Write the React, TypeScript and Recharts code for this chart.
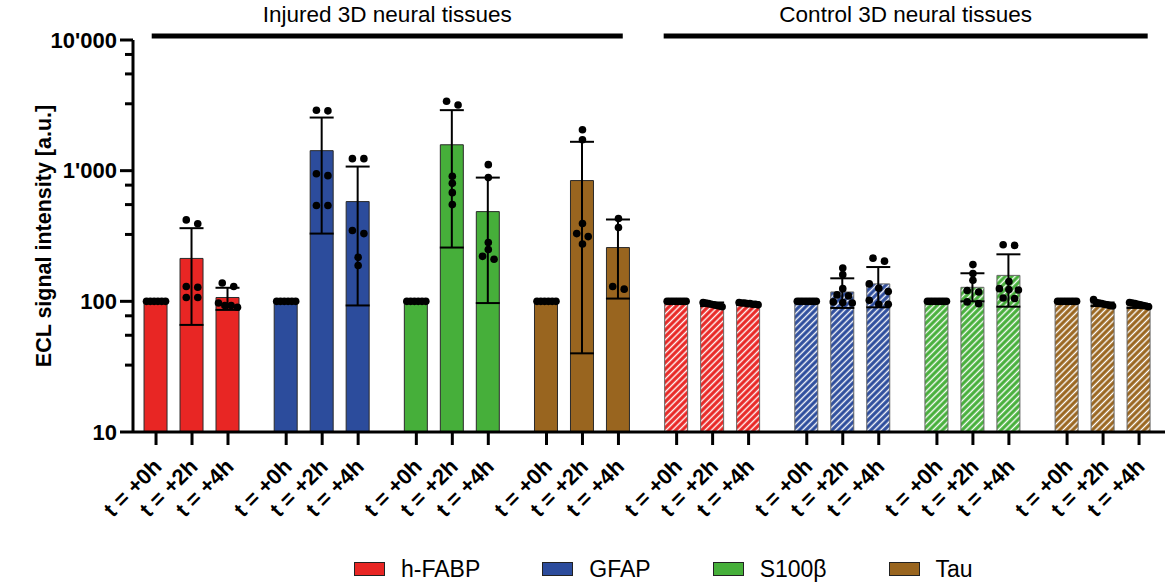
import React from "react";
import {
  ComposedChart,
  Bar,
  Cell,
  ErrorBar,
  Scatter,
  XAxis,
  YAxis,
  ReferenceLine,
} from "recharts";

const FONT = '"Liberation Sans", Arial, Helvetica, sans-serif';

const markers = ["h-FABP", "GFAP", "S100β", "Tau"];
const markerColors = ["#E82624", "#2C4C9C", "#46AF3A", "#99651F"];
const timeLabels = ["t = +0h", "t = +2h", "t = +4h"];
const conditionTitles = ["Injured 3D neural tissues", "Control 3D neural tissues"];

const majorTicks = [10, 100, 1000, 10000];
const minorTicks = [32.5, 55, 77.5, 325, 550, 775, 3250, 5500, 7750];

// order: h-FABP (0h, 2h, 4h), GFAP, S100β, Tau
const injuredMean = [100, 213, 107, 100, 1423, 580, 100, 1578, 486, 100, 840, 258];
const injuredLow = [100, 66, 86, 100, 330, 93, 100, 258, 97, 100, 40, 105];
const injuredHigh = [100, 363, 127, 100, 2550, 1075, 100, 2905, 885, 100, 1663, 423];

const controlMean = [100, 95, 96, 100, 118, 136, 100, 128, 158, 100, 95, 92];
const controlLow = [100, 92, 94, 100, 89, 90, 100, 100, 91, 100, 92, 89];
const controlHigh = [100, 98, 98, 100, 150, 183, 100, 164, 229, 100, 98, 95];

const injuredDots = [
  [100, 100, 100, 100, 100, 100],
  [420, 392, 130, 128, 107, 107],
  [138, 130, 97, 93, 93, 90],
  [100, 100, 100, 100, 100, 100],
  [2900, 2870, 948, 916, 541, 541],
  [1236, 1236, 348, 330, 217, 188],
  [100, 100, 100, 100, 100, 100],
  [3400, 3180, 905, 800, 679, 550],
  [1112, 885, 282, 249, 221, 210],
  [100, 100, 100, 100, 100, 100],
  [2055, 1726, 394, 330, 313, 275],
  [430, 367, 130, 124],
];

const controlDots = [
  [100, 100, 100, 100, 100, 100, 100, 100],
  [98, 97, 96, 95, 94, 93, 92, 91],
  [98, 97, 97, 96, 96, 95, 95, 94],
  [100, 100, 100, 100, 100, 100, 100, 100],
  [180, 160, 125, 112, 110, 99, 98, 97],
  [214, 203, 136, 126, 119, 102, 95, 95],
  [100, 100, 100, 100, 100, 100, 100, 100],
  [191, 163, 145, 121, 118, 99, 96],
  [271, 268, 142, 125, 123, 122, 106, 105],
  [100, 100, 100, 100, 100, 100, 100, 100],
  [103, 98, 97, 96, 95, 94, 93, 92],
  [98, 97, 96, 95, 94, 93, 92, 91],
];

const GROUP_PITCH = 3.617;
const X_DOMAIN: [number, number] = [-0.64, 28.04];
const PX_PER_UNIT = 36;
const BRACKET_Y = 10730;

const pos = (group: number, time: number) => group * GROUP_PITCH + time;

// Prism-like horizontal spread of points with nearly equal values
function spreadDots(values: number[]) {
  const sorted = [...values].sort((a, b) => b - a);
  const clusters: number[][] = [];
  let cur: number[] = [];
  sorted.forEach((v, i) => {
    if (i > 0 && Math.log10(sorted[i - 1]) - Math.log10(v) > 0.044) {
      clusters.push(cur);
      cur = [];
    }
    cur.push(v);
  });
  clusters.push(cur);
  return clusters.flatMap((cl) => {
    const n = cl.length;
    const step = n > 1 ? Math.min(11.5, 19 / (n - 1)) : 0;
    return cl.map((v, k) => ({ v, dx: ((k - (n - 1) / 2) * step) / PX_PER_UNIT }));
  });
}

const conditions = [
  { mean: injuredMean, low: injuredLow, high: injuredHigh, dots: injuredDots, hatched: false },
  { mean: controlMean, low: controlLow, high: controlHigh, dots: controlDots, hatched: true },
];

const barRows: { x: number; mean: number; err: [number, number]; fill: string; hatched: boolean }[] = [];
const dotRows: { x: number; y: number }[] = [];

conditions.forEach((c, ci) => {
  markers.forEach((_, m) => {
    timeLabels.forEach((__, t) => {
      const i = m * 3 + t;
      const x = pos(ci * 4 + m, t);
      barRows.push({
        x,
        mean: c.mean[i],
        err: [c.mean[i] - c.low[i], c.high[i] - c.mean[i]],
        fill: c.hatched ? `url(#hatch-${m})` : markerColors[m],
        hatched: c.hatched,
      });
      spreadDots(c.dots[i]).forEach((d) => dotRows.push({ x: x + d.dx, y: d.v }));
    });
  });
});

const barTicks = barRows.map((r) => r.x);

const fmt = (v: number) => String(v).replace(/\B(?=(\d{3})+(?!\d))/g, "'");

function LogTick({ x, y, payload }: any) {
  const major = majorTicks.includes(payload.value);
  return (
    <g>
      <line x1={x - (major ? 13 : 8)} y1={y} x2={x} y2={y} stroke="#000" strokeWidth={3} />
      {major && (
        <text
          x={x - 16}
          y={y}
          textAnchor="end"
          dominantBaseline="central"
          fontSize={22}
          fontWeight="bold"
          fontFamily={FONT}
          fill="#000"
        >
          {fmt(payload.value)}
        </text>
      )}
    </g>
  );
}

function TimeTick({ x, y, index }: any) {
  const tx = x + 7;
  const ty = y + 36;
  return (
    <g>
      <line x1={x} y1={y + 1} x2={x} y2={y + 13} stroke="#000" strokeWidth={3} />
      <text
        x={tx}
        y={ty}
        transform={`rotate(-45 ${tx} ${ty})`}
        textAnchor="end"
        fontSize={22}
        fontWeight="bold"
        fontFamily={FONT}
        fill="#000"
      >
        {timeLabels[index % 3]}
      </text>
    </g>
  );
}

const bracketX = [
  [pos(0, 0) - 0.12, pos(3, 2) + 0.12],
  [pos(4, 0) - 0.36, pos(7, 2) + 0.24],
];

export default function App() {
  return (
    <div style={{ position: "absolute", left: 0, top: 0, width: 1169, height: 585, fontFamily: FONT }}>
      <ComposedChart
        width={1169}
        height={585}
        data={barRows}
        margin={{ top: 40, right: 4, bottom: 53, left: 0 }}
      >
        <defs>
          {markerColors.map((c, m) => (
            <pattern
              key={m}
              id={`hatch-${m}`}
              patternUnits="userSpaceOnUse"
              width={4.6}
              height={4.6}
              patternTransform="rotate(45)"
            >
              <rect width={4.6} height={4.6} fill={c} />
              <line x1={2.3} y1={0} x2={2.3} y2={4.6} stroke="#fff" strokeWidth={1.4} />
            </pattern>
          ))}
        </defs>
        <XAxis
          dataKey="x"
          type="number"
          domain={X_DOMAIN}
          allowDataOverflow
          ticks={barTicks}
          interval={0}
          height={100}
          tickSize={0}
          tickMargin={0}
          tickLine={false}
          axisLine={{ stroke: "#000", strokeWidth: 3 }}
          tick={<TimeTick />}
        />
        <XAxis xAxisId="dots" dataKey="x" type="number" domain={X_DOMAIN} allowDataOverflow hide />
        <YAxis
          type="number"
          scale="log"
          domain={[10, 10000]}
          allowDataOverflow
          ticks={[...majorTicks, ...minorTicks]}
          interval={0}
          width={133}
          tickSize={0}
          tickMargin={0}
          tickLine={false}
          axisLine={{ stroke: "#000", strokeWidth: 3 }}
          tick={<LogTick />}
          label={{
            content: () => (
              <text
                x={44}
                y={236}
                transform="rotate(-90 44 236)"
                textAnchor="middle"
                dominantBaseline="central"
                fontSize={21.5}
                fontWeight="bold"
                fontFamily={FONT}
                fill="#000"
              >
                ECL signal intensity [a.u.]
              </text>
            ),
          }}
        />
        <Bar dataKey="mean" barSize={23} isAnimationActive={false}>
          {barRows.map((r, i) => (
            <Cell
              key={i}
              fill={r.fill}
              stroke={r.hatched ? "#666" : "#2a2a2a"}
              strokeWidth={1}
            />
          ))}
          <ErrorBar dataKey="err" width={12} strokeWidth={2} stroke="#000" />
        </Bar>
        <Scatter
          xAxisId="dots"
          data={dotRows}
          dataKey="y"
          isAnimationActive={false}
          shape={(p: any) => <circle cx={p.cx} cy={p.cy} r={3.8} fill="#000" />}
        />
        {conditionTitles.map((title, ci) => (
          <ReferenceLine
            key={title}
            segment={[
              { x: bracketX[ci][0], y: BRACKET_Y },
              { x: bracketX[ci][1], y: BRACKET_Y },
            ]}
            stroke="#000"
            strokeWidth={5}
            ifOverflow="visible"
            label={{
              value: title,
              position: "top",
              offset: 14,
              fill: "#000",
              fontSize: 22.5,
              fontFamily: FONT,
            }}
          />
        ))}
      </ComposedChart>
      <div
        style={{
          position: "absolute",
          left: 354,
          top: 556,
          display: "flex",
          alignItems: "center",
          fontSize: 23,
          lineHeight: "26px",
          color: "#000",
        }}
      >
        {markers.map((m, i) => (
          <div key={m} style={{ display: "flex", alignItems: "center", marginRight: i < markers.length - 1 ? 62 : 0 }}>
            <span
              style={{
                display: "inline-block",
                width: 29,
                height: 12,
                background: markerColors[i],
                border: "1px solid #222",
                marginRight: 16,
              }}
            />
            <span>{m}</span>
          </div>
        ))}
      </div>
    </div>
  );
}
